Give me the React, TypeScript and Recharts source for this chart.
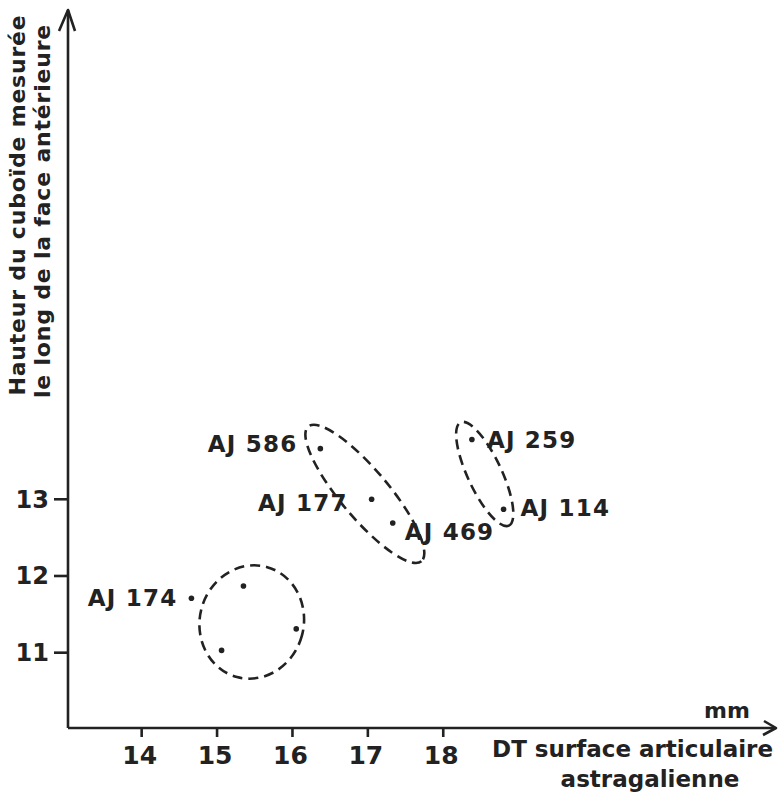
import { ScatterChart, Scatter, XAxis, YAxis, ReferenceDot, Customized } from 'recharts';

// mesures (mm)
const specimenIds = ['AJ 174', '', '', '', 'AJ 586', 'AJ 177', 'AJ 469', 'AJ 259', 'AJ 114'];
const dtValues = [14.66, 15.35, 16.05, 15.06, 16.37, 17.05, 17.33, 18.38, 18.8];
const heightValues = [11.71, 11.87, 11.31, 11.03, 13.66, 13.0, 12.69, 13.78, 12.87];

const xTicks = [14, 15, 16, 17, 18];
const yTicks = [11, 12, 13];

// centres des groupes entourés
const groupCenterX = [15.46, 16.96, 18.55];
const groupCenterY = [11.4, 13.07, 13.33];

const data = dtValues.map((x, i) => ({ id: specimenIds[i], x, y: heightValues[i] }));

const INK = '#222';
const FONT = '"DejaVu Sans", sans-serif';

// placement des étiquettes (px)
const labelOffsets: Record<string, { dx: number; dy: number; anchor: 'start' | 'end' }> = {
  'AJ 174': { dx: -14, dy: 8, anchor: 'end' },
  'AJ 586': { dx: -23, dy: 3, anchor: 'end' },
  'AJ 177': { dx: -24, dy: 12, anchor: 'end' },
  'AJ 469': { dx: 12, dy: 17, anchor: 'start' },
  'AJ 259': { dx: 15, dy: 9, anchor: 'start' },
  'AJ 114': { dx: 17, dy: 7, anchor: 'start' },
};

const ellipseShapes = [
  { rx: 52, ry: 57, angle: 15 },
  { rx: 88, ry: 24, angle: 50 },
  { rx: 57, ry: 17, angle: 65 },
];

function PointShape(props: any) {
  const { cx, cy, payload } = props;
  const lab = labelOffsets[payload.id];
  return (
    <g>
      <circle cx={cx} cy={cy} r={2.8} fill={INK} />
      {lab && (
        <text
          x={cx + lab.dx}
          y={cy + lab.dy}
          textAnchor={lab.anchor}
          fontSize={23}
          fontWeight="bold"
          letterSpacing={1.2}
          fontFamily={FONT}
          fill={INK}
        >
          {payload.id}
        </text>
      )}
    </g>
  );
}

function Decorations() {
  return (
    <g stroke={INK} fill="none" strokeWidth={2.6}>
      <line x1={68} y1={14} x2={68} y2={10} />
      <polyline points="59,31 68,10 75,31" strokeLinejoin="round" />
      <polyline points="764,721 776,728 763,735" strokeLinejoin="round" />
      <g stroke="none" fill={INK} fontFamily={FONT} fontWeight="bold">
        <text x={25} y={205} transform="rotate(-90 25 205)" textAnchor="middle" fontSize={22} letterSpacing={0.8}>
          Hauteur du cuboïde mesurée
        </text>
        <text x={50} y={211} transform="rotate(-90 50 211)" textAnchor="middle" fontSize={22} letterSpacing={0.8}>
          le long de la face antérieure
        </text>
        <text x={727} y={718} textAnchor="middle" fontSize={22}>mm</text>
        <text x={773} y={757} textAnchor="end" fontSize={23}>DT surface articulaire</text>
        <text x={650} y={787} textAnchor="middle" fontSize={23}>astragalienne</text>
      </g>
    </g>
  );
}

export default function App() {
  return (
    <div style={{ position: 'absolute', left: 0, top: 0, background: '#fff' }}>
      <ScatterChart width={779} height={801} margin={{ top: 12, right: 4, bottom: 43, left: 0 }}>
        <XAxis
          type="number"
          dataKey="x"
          domain={[13.023, 22.4]}
          ticks={xTicks}
          allowDataOverflow
          height={30}
          tickSize={9}
          tickMargin={9}
          axisLine={{ stroke: INK, strokeWidth: 2.6 }}
          tickLine={{ stroke: INK, strokeWidth: 2.6 }}
          tick={{ fill: INK, fontSize: 25, fontWeight: 'bold', fontFamily: FONT, dx: -2 }}
        />
        <YAxis
          type="number"
          dataKey="y"
          domain={[10.018, 19.353]}
          ticks={yTicks}
          allowDataOverflow
          width={68}
          tickSize={14}
          tickMargin={5}
          axisLine={{ stroke: INK, strokeWidth: 2.6 }}
          tickLine={{ stroke: INK, strokeWidth: 2.6 }}
          tick={{ fill: INK, fontSize: 24, fontWeight: 'bold', fontFamily: FONT }}
        />
        {groupCenterX.map((gx, i) => (
          <ReferenceDot
            key={i}
            x={gx}
            y={groupCenterY[i]}
            r={1}
            shape={(p: any) => (
              <ellipse
                cx={p.cx}
                cy={p.cy}
                rx={ellipseShapes[i].rx}
                ry={ellipseShapes[i].ry}
                transform={`rotate(${ellipseShapes[i].angle} ${p.cx} ${p.cy})`}
                fill="none"
                stroke={INK}
                strokeWidth={2.6}
                strokeDasharray="10 6"
              />
            )}
          />
        ))}
        <Scatter data={data} shape={PointShape} isAnimationActive={false} />
        <Customized component={<Decorations />} />
      </ScatterChart>
    </div>
  );
}
